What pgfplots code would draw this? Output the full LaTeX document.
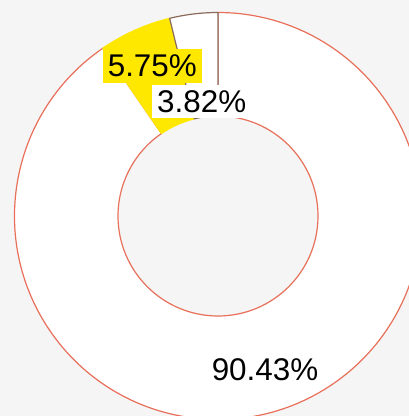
\documentclass[border=0pt]{standalone}
\usepackage{pgfplots}
\pgfplotsset{compat=1.18}
\usepackage{pgfplotstable}
\usepackage{fontspec}
\setmainfont{Liberation Sans}
\definecolor{bg}{HTML}{F5F5F5}
\definecolor{ringred}{HTML}{E8705A}
\definecolor{brownline}{HTML}{8B6A5A}
\definecolor{gold}{HTML}{FFE800}

\pgfplotstableread{
label value
a 3.82
b 5.75
c 90.43
}\donutdata

\pgfplotstablegetelem{0}{value}\of\donutdata \let\va\pgfplotsretval
\pgfplotstablegetelem{1}{value}\of\donutdata \let\vb\pgfplotsretval
\pgfplotstablegetelem{2}{value}\of\donutdata \let\vc\pgfplotsretval
\pgfmathsetmacro{\tot}{\va+\vb+\vc}
\pgfmathsetmacro{\aA}{90}
\pgfmathsetmacro{\aB}{90+360*\va/\tot}
\pgfmathsetmacro{\aC}{\aB+360*\vb/\tot}
\pgfmathsetmacro{\aD}{90+360}

\def\Rout{203.5}
\def\Rin{100}
\pgfmathsetmacro{\Rdiff}{\Rout-\Rin}

\newcommand{\slice}[4]{%
  \filldraw[fill=#3, draw=#4, line width=1.2bp, line join=round]
    (axis cs:218,200) ++(#1:\Rout bp) arc[start angle=#1, end angle=#2, radius=\Rout bp]
    -- ++(#2+180:\Rdiff bp) arc[start angle=#2, end angle=#1, radius=\Rin bp] -- cycle;}

\begin{document}
\begin{tikzpicture}
\begin{axis}[x=1bp, y=1bp, xmin=0, xmax=409, ymin=0, ymax=416,
  hide axis, clip=true]
  \fill[bg] (axis cs:0,0) rectangle (axis cs:409,416);
  \slice{\aC}{\aD}{white}{ringred}
  \slice{\aB}{\aC}{gold}{gold}
  \slice{\aA}{\aB}{white}{brownline}
  \node[fill=gold, inner xsep=5bp, inner ysep=5.5bp, font=\fontsize{31.5}{36}\selectfont] at (axis cs:152.3,350) {5.75\%};
  \node[fill=white, inner xsep=5bp, inner ysep=5.5bp, font=\fontsize{31.5}{36}\selectfont] at (axis cs:201.7,314.5) {3.82\%};
  \node[font=\fontsize{31.5}{36}\selectfont] at (axis cs:265,46.5) {90.43\%};
\end{axis}
\end{tikzpicture}
\end{document}
